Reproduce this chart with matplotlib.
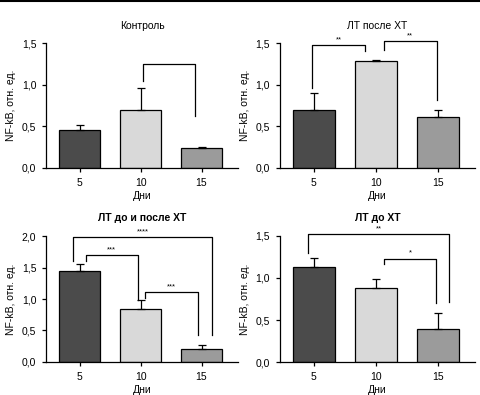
import matplotlib
matplotlib.use("Agg")
import matplotlib.pyplot as plt
from matplotlib.lines import Line2D

plt.rcParams["font.family"] = ["Liberation Sans", "DejaVu Sans"]
plt.rcParams["font.size"] = 7

days = ["5", "10", "15"]
colors = ["#4b4b4b", "#d9d9d9", "#9b9b9b"]

titles = ["Контроль", "ЛТ после ХТ", "ЛТ до и после ХТ", "ЛТ до ХТ"]
title_bold = [False, False, True, True]
ytop = [1.5, 1.5, 2.0, 1.5]

means = [
    [0.46, 0.69, 0.24],
    [0.69, 1.29, 0.61],
    [1.45, 0.84, 0.20],
    [1.13, 0.88, 0.40],
]
errs = [
    [0.05, 0.27, 0.01],
    [0.21, 0.01, 0.08],
    [0.10, 0.14, 0.06],
    [0.11, 0.11, 0.18],
]

# brackets: (left bar, right bar, left offset, right offset, top, left leg end, right leg end, stars)
brackets = [
    [(1, 2, 0.04, -0.10, 1.25, 1.05, 0.62, "")],
    [(0, 1, -0.03, -0.17, 1.48, 0.96, 1.40, "**"),
     (1, 2, 0.13, -0.02, 1.52, 1.42, 0.82, "**")],
    [(0, 2, -0.11, 0.18, 1.99, 1.61, 0.43, "****"),
     (0, 1, 0.10, -0.05, 1.70, 1.61, 0.98, "***"),
     (1, 2, 0.08, -0.06, 1.11, 1.01, 0.43, "***")],
    [(0, 2, -0.09, 0.17, 1.52, 1.30, 0.72, "**"),
     (1, 2, 0.13, -0.03, 1.23, 1.16, 0.70, "*")],
]

positions = [
    [0.096, 0.575, 0.400, 0.316],
    [0.583, 0.575, 0.407, 0.316],
    [0.096, 0.084, 0.400, 0.318],
    [0.583, 0.083, 0.407, 0.320],
]

fig = plt.figure(figsize=(4.8, 3.95), dpi=100)
fig.add_artist(Line2D([0, 1], [0.997, 0.997], color="black", lw=1.5,
                      transform=fig.transFigure))

for i in range(4):
    ax = fig.add_axes(positions[i])
    x = list(range(len(days)))
    ax.bar(x, means[i], width=0.68, color=colors, edgecolor="black",
           linewidth=0.9, zorder=2)
    ax.errorbar(x, means[i], yerr=[[0] * 3, errs[i]], fmt="none",
                ecolor="black", elinewidth=0.9, capsize=3.2, capthick=0.9,
                zorder=3)
    ax.set_xlim(-0.55, 2.6)
    ax.set_ylim(0, ytop[i])
    step = 0.5
    ticks = [k * step for k in range(int(round(ytop[i] / step)) + 1)]
    ax.set_yticks(ticks)
    ax.set_yticklabels([f"{t:.1f}".replace(".", ",") for t in ticks])
    ax.set_xticks(x)
    ax.set_xticklabels(days)
    for s in ["top", "right"]:
        ax.spines[s].set_visible(False)
    for s in ["left", "bottom"]:
        ax.spines[s].set_linewidth(0.9)
    ax.tick_params(direction="out", length=3, width=0.9, labelsize=7.5, pad=4)
    ax.set_xlabel("Дни", fontsize=7.5, labelpad=2.5)
    ax.set_ylabel("NF-kB, отн. ед.", fontsize=7.5, labelpad=4)
    ax.set_title(titles[i], fontsize=7.5,
                 fontweight="bold" if title_bold[i] else "normal",
                 pad=10 if i < 2 else 11)

    for (a, b, oa, ob, top, la, lb, lab) in brackets[i]:
        xa = x[a] + oa
        xb = x[b] + ob
        ax.plot([xa, xa, xb, xb], [la, top, top, lb], color="black",
                lw=0.9, clip_on=False, zorder=4)
        if lab:
            ax.text((xa + xb) / 2, top + 0.02 * ytop[i] / 1.5, lab,
                    ha="center", va="bottom", fontsize=5.5, clip_on=False)

fig.savefig("out.png", dpi=100)
